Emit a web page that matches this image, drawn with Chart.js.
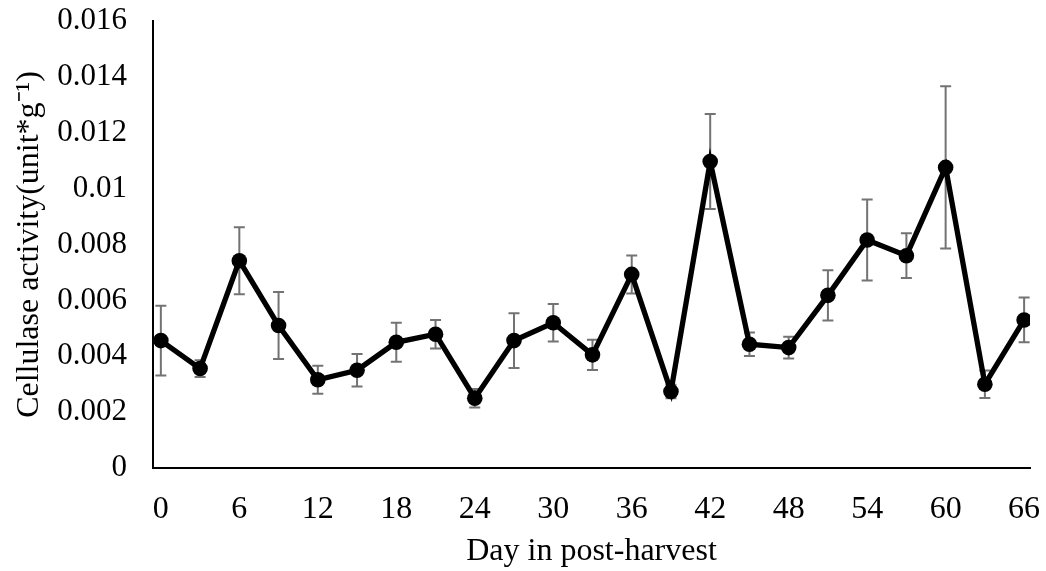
<!DOCTYPE html>
<html>
<head>
<meta charset="utf-8">
<title>Cellulase activity</title>
<script src="https://cdn.jsdelivr.net/npm/chart.js@4/dist/chart.umd.min.js"></script>
<style>
    html, body { margin: 0; padding: 0; background: #ffffff; }
    #wrap { width: 1046px; height: 571px; position: relative; }
</style>
</head>
<body>
<div id="wrap"><canvas id="cellulase_chart"></canvas></div>
<script>
// values
const days = [0, 3, 6, 9, 12, 15, 18, 21, 24, 27, 30, 33, 36, 39, 42, 45, 48, 51, 54, 57, 60, 63, 66];
const activity = [0.00456, 0.00356, 0.00742, 0.00510, 0.00316, 0.00350, 0.00450, 0.00479, 0.00250, 0.00456, 0.00520, 0.00405,
    0.00693, 0.00274, 0.01097, 0.00443, 0.00431, 0.00618, 0.00816, 0.00760, 0.01076, 0.00300, 0.00530];
const errors = [0.00125, 0.00030, 0.00120, 0.00120, 0.00050, 0.00058, 0.00070, 0.00051, 0.00033, 0.00098, 0.00067, 0.00054,
    0.00068, 0.00024, 0.00170, 0.00042, 0.00039, 0.00090, 0.00145, 0.00080, 0.00290, 0.00049, 0.00080];
const xTicks = [0, 6, 12, 18, 24, 30, 36, 42, 48, 54, 60, 66];

const fontFamily = "'Liberation Serif', 'Times New Roman', serif";

// error bars, drawn under the line
const errorBars = {
    id: 'errorBars',
    beforeDatasetsDraw(chart) {
        let c = chart.ctx;
        let xs = chart.scales.x;
        let ys = chart.scales.y;
        c.save();
        c.strokeStyle = '#737373';
        c.lineWidth = 2;
        days.forEach(function (d, i) {
            let px = xs.getPixelForValue(d);
            let top = ys.getPixelForValue(activity[i] + errors[i]);
            let bot = ys.getPixelForValue(activity[i] - errors[i]);
            c.beginPath();
            c.moveTo(px, top); c.lineTo(px, bot);
            c.moveTo(px - 5.5, top); c.lineTo(px + 5.5, top);
            c.moveTo(px - 5.5, bot); c.lineTo(px + 5.5, bot);
            c.stroke();
        });
        c.restore();
    }
};

let ctx = document.getElementById('cellulase_chart').getContext('2d');
const chart = new Chart(ctx, {
    type: 'line',
    data: {
        datasets: [{
            label: 'Cellulase activity',
            data: days.map(function (d, i) { return { x: d, y: activity[i] }; }),
            borderColor: '#000000',
            backgroundColor: '#000000',
            borderWidth: 5.3,
            pointRadius: 7.8,
            pointBorderWidth: 0,
            pointBackgroundColor: '#000000',
            tension: 0,
            fill: false
        }]
    },
    options: {
        responsive: true,
        maintainAspectRatio: false,
        animation: false,
        layout: { padding: { top: 21, right: 16, left: 0, bottom: 0 } },
        plugins: {
            legend: { display: false },
            tooltip: { enabled: false }
        },
        scales: {
            x: {
                type: 'linear',
                min: -0.6,
                max: 66.45,
                afterBuildTicks: function (axis) {
                    axis.ticks = xTicks.map(function (v) { return { value: v }; });
                },
                afterFit: function (axis) {
                    axis.height = 103;
                    // no extra room for the edge labels
                    axis.paddingLeft = 0;
                    axis.paddingRight = 0;
                },
                grid: { display: false, drawTicks: false },
                border: { display: true, color: '#000000', width: 2 },
                ticks: {
                    color: '#000000',
                    padding: 22,
                    maxRotation: 0,
                    autoSkip: false,
                    font: { family: fontFamily, size: 32 }
                },
                title: {
                    display: true,
                    text: 'Day in post-harvest',
                    color: '#000000',
                    padding: { top: 0, bottom: 0 },
                    font: { family: fontFamily, size: 32 }
                }
            },
            y: {
                min: 0,
                max: 0.016,
                afterFit: function (axis) {
                    axis.width = 153;
                    axis.paddingTop = 0;
                    axis.paddingBottom = 0;
                },
                grid: { display: false, drawTicks: false },
                border: { display: true, color: '#000000', width: 2 },
                ticks: {
                    stepSize: 0.002,
                    color: '#000000',
                    padding: 26,
                    font: { family: fontFamily, size: 31 },
                    callback: function (v) { return String(parseFloat(v.toFixed(3))); }
                },
                title: {
                    display: true,
                    text: 'Cellulase activity(unit*g\u207B\u00B9)',
                    color: '#000000',
                    padding: { top: 10, bottom: 0 },
                    font: { family: fontFamily, size: 32 }
                }
            }
        }
    },
    plugins: [errorBars]
});
</script>
</body>
</html>
